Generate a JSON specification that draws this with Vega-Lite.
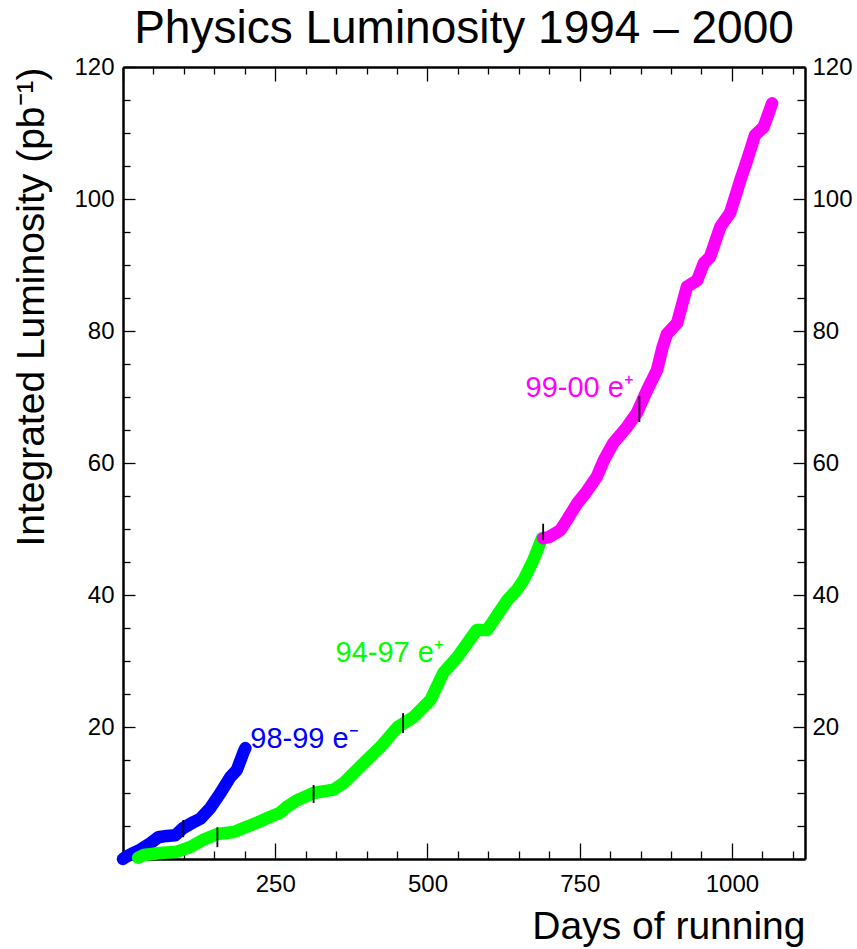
{
  "$schema": "https://vega.github.io/schema/vega-lite/v6.json",
  "width": 682,
  "height": 792,
  "autosize": {"type": "none"},
  "padding": {"left": 123, "top": 67, "right": 52, "bottom": 90},
  "background": "white",
  "title": {"text": "Physics Luminosity 1994 – 2000", "font": "Liberation Sans", "fontSize": 46, "fontWeight": "normal", "color": "black", "anchor": "middle", "offset": 2},
  "config": {
    "view": {"stroke": null},
    "axis": {
      "grid": false,
      "domainColor": "black",
      "domainWidth": 2.5,
      "tickColor": "black",
      "tickWidth": 1.3,
      "labelFont": "Liberation Sans",
      "labelFontSize": 24,
      "labelColor": "black",
      "labelFlush": false,
      "labelOverlap": false,
      "titleFont": "Liberation Sans",
      "titleFontWeight": "normal",
      "titleFontSize": 39,
      "titleColor": "black"
    }
  },
  "datasets": {
    "curves": [
      {"series": "98-99 e⁻", "d": 0, "L": 0},
      {"series": "98-99 e⁻", "d": 4, "L": 0.3},
      {"series": "98-99 e⁻", "d": 15, "L": 0.8},
      {"series": "98-99 e⁻", "d": 28, "L": 1.4},
      {"series": "98-99 e⁻", "d": 45, "L": 2.4},
      {"series": "98-99 e⁻", "d": 58, "L": 3.3},
      {"series": "98-99 e⁻", "d": 72, "L": 3.5},
      {"series": "98-99 e⁻", "d": 86, "L": 3.6},
      {"series": "98-99 e⁻", "d": 99, "L": 4.7},
      {"series": "98-99 e⁻", "d": 116, "L": 5.6},
      {"series": "98-99 e⁻", "d": 127, "L": 6.1},
      {"series": "98-99 e⁻", "d": 143, "L": 7.7},
      {"series": "98-99 e⁻", "d": 160, "L": 10.0},
      {"series": "98-99 e⁻", "d": 176, "L": 12.4},
      {"series": "98-99 e⁻", "d": 187, "L": 13.5},
      {"series": "98-99 e⁻", "d": 198, "L": 16.2},
      {"series": "98-99 e⁻", "d": 201, "L": 16.8},
      {"series": "94-97 e⁺", "d": 25, "L": 0.2},
      {"series": "94-97 e⁺", "d": 34, "L": 0.6},
      {"series": "94-97 e⁺", "d": 61, "L": 0.9},
      {"series": "94-97 e⁺", "d": 89, "L": 1.1},
      {"series": "94-97 e⁺", "d": 110, "L": 1.8},
      {"series": "94-97 e⁺", "d": 132, "L": 2.9},
      {"series": "94-97 e⁺", "d": 155, "L": 3.8},
      {"series": "94-97 e⁺", "d": 182, "L": 4.1},
      {"series": "94-97 e⁺", "d": 198, "L": 4.7},
      {"series": "94-97 e⁺", "d": 220, "L": 5.5},
      {"series": "94-97 e⁺", "d": 242, "L": 6.4},
      {"series": "94-97 e⁺", "d": 258, "L": 7.0},
      {"series": "94-97 e⁺", "d": 269, "L": 7.9},
      {"series": "94-97 e⁺", "d": 286, "L": 8.9},
      {"series": "94-97 e⁺", "d": 313, "L": 10.0},
      {"series": "94-97 e⁺", "d": 346, "L": 10.5},
      {"series": "94-97 e⁺", "d": 362, "L": 11.5},
      {"series": "94-97 e⁺", "d": 395, "L": 14.5},
      {"series": "94-97 e⁺", "d": 423, "L": 17.0},
      {"series": "94-97 e⁺", "d": 451, "L": 20.0},
      {"series": "94-97 e⁺", "d": 477, "L": 21.5},
      {"series": "94-97 e⁺", "d": 505, "L": 24.1},
      {"series": "94-97 e⁺", "d": 526, "L": 28.2},
      {"series": "94-97 e⁺", "d": 549, "L": 30.6},
      {"series": "94-97 e⁺", "d": 581, "L": 34.7},
      {"series": "94-97 e⁺", "d": 598, "L": 34.7},
      {"series": "94-97 e⁺", "d": 631, "L": 39.2},
      {"series": "94-97 e⁺", "d": 647, "L": 40.8},
      {"series": "94-97 e⁺", "d": 658, "L": 42.3},
      {"series": "94-97 e⁺", "d": 674, "L": 45.3},
      {"series": "94-97 e⁺", "d": 688, "L": 48.6},
      {"series": "99-00 e⁺", "d": 690, "L": 48.6},
      {"series": "99-00 e⁺", "d": 700, "L": 48.8},
      {"series": "99-00 e⁺", "d": 718, "L": 49.8},
      {"series": "99-00 e⁺", "d": 730, "L": 51.5},
      {"series": "99-00 e⁺", "d": 746, "L": 53.9},
      {"series": "99-00 e⁺", "d": 760, "L": 55.5},
      {"series": "99-00 e⁺", "d": 778, "L": 57.9},
      {"series": "99-00 e⁺", "d": 790, "L": 60.5},
      {"series": "99-00 e⁺", "d": 805, "L": 63.0},
      {"series": "99-00 e⁺", "d": 828, "L": 65.5},
      {"series": "99-00 e⁺", "d": 844, "L": 67.6},
      {"series": "99-00 e⁺", "d": 861, "L": 71.1},
      {"series": "99-00 e⁺", "d": 877, "L": 74.1},
      {"series": "99-00 e⁺", "d": 886, "L": 77.5},
      {"series": "99-00 e⁺", "d": 893, "L": 79.5},
      {"series": "99-00 e⁺", "d": 910, "L": 81.2},
      {"series": "99-00 e⁺", "d": 926, "L": 86.7},
      {"series": "99-00 e⁺", "d": 943, "L": 87.7},
      {"series": "99-00 e⁺", "d": 954, "L": 90.3},
      {"series": "99-00 e⁺", "d": 964, "L": 91.2},
      {"series": "99-00 e⁺", "d": 981, "L": 95.8},
      {"series": "99-00 e⁺", "d": 997, "L": 97.9},
      {"series": "99-00 e⁺", "d": 1014, "L": 102.9},
      {"series": "99-00 e⁺", "d": 1025, "L": 105.9},
      {"series": "99-00 e⁺", "d": 1038, "L": 109.7},
      {"series": "99-00 e⁺", "d": 1052, "L": 110.9},
      {"series": "99-00 e⁺", "d": 1066, "L": 114.5}
    ],
    "markers": [
      {"d": 99, "y1": 3.3, "y2": 5.9},
      {"d": 155, "y1": 1.8, "y2": 4.8},
      {"d": 313, "y1": 8.5, "y2": 11.2},
      {"d": 460, "y1": 19.1, "y2": 22.1},
      {"d": 690, "y1": 48.3, "y2": 50.8},
      {"d": 848, "y1": 66.2, "y2": 70.1}
    ],
    "labels": [
      {"series": "98-99 e⁻", "d": 209, "L": 16.8},
      {"series": "94-97 e⁺", "d": 349, "L": 29.8},
      {"series": "99-00 e⁺", "d": 661, "L": 70.0}
    ]
  },
  "resolve": {"axis": {"x": "independent", "y": "independent"}},
  "layer": [
    {
      "data": {"name": "curves"},
      "mark": {"type": "line", "strokeWidth": 12.5, "strokeCap": "round", "strokeJoin": "round"},
      "encoding": {
        "x": {
          "field": "d", "type": "quantitative",
          "scale": {"domain": [0, 1120], "nice": false, "zero": false},
          "axis": {
            "orient": "bottom",
            "values": [0,50,100,150,200,250,300,350,400,450,500,550,600,650,700,750,800,850,900,950,1000,1050,1100],
            "format": "d",
            "tickSize": {"condition": {"test": "datum.value % 250 === 0", "value": -16}, "value": -8},
            "labelExpr": "datum.value % 250 === 0 && datum.value > 0 ? datum.label : ''",
            "labelPadding": 29,
            "title": "Days of running",
            "titleAnchor": "end",
            "titlePadding": 3
          }
        },
        "y": {
          "field": "L", "type": "quantitative",
          "scale": {"domain": [0, 120], "nice": false, "zero": false},
          "axis": {
            "orient": "left",
            "values": [0,5,10,15,20,25,30,35,40,45,50,55,60,65,70,75,80,85,90,95,100,105,110,115,120],
            "tickSize": {"condition": {"test": "datum.value % 20 === 0", "value": -12}, "value": -7},
            "labelExpr": "datum.value % 20 === 0 && datum.value > 0 ? datum.label : ''",
            "labelPadding": 21,
            "title": "Integrated Luminosity (pb⁻¹)",
            "titleAnchor": "end",
            "titlePadding": 22
          }
        },
        "color": {
          "field": "series", "type": "nominal",
          "scale": {"domain": ["98-99 e⁻", "94-97 e⁺", "99-00 e⁺"], "range": ["#0000ff", "#00ff00", "#ff00ff"]},
          "legend": null
        }
      }
    },
    {
      "data": {"name": "markers"},
      "mark": {"type": "rule", "color": "black", "strokeWidth": 1.8},
      "encoding": {
        "x": {
          "field": "d", "type": "quantitative",
          "axis": {
            "orient": "top",
            "values": [0,50,100,150,200,250,300,350,400,450,500,550,600,650,700,750,800,850,900,950,1000,1050,1100],
            "tickSize": {"condition": {"test": "datum.value % 250 === 0", "value": -14}, "value": -7},
            "labels": false,
            "title": null
          }
        },
        "y": {
          "field": "y1", "type": "quantitative",
          "axis": {
            "orient": "right",
            "values": [0,5,10,15,20,25,30,35,40,45,50,55,60,65,70,75,80,85,90,95,100,105,110,115,120],
            "tickSize": {"condition": {"test": "datum.value % 20 === 0", "value": -12}, "value": -8},
            "labelExpr": "datum.value % 20 === 0 && datum.value > 0 ? datum.label : ''",
            "labelPadding": 19,
            "title": null
          }
        },
        "y2": {"field": "y2"}
      }
    },
    {
      "data": {"name": "labels"},
      "mark": {"type": "text", "font": "Liberation Sans", "fontSize": 29, "align": "left", "baseline": "alphabetic"},
      "encoding": {
        "x": {"field": "d", "type": "quantitative", "axis": null},
        "y": {"field": "L", "type": "quantitative", "axis": null},
        "text": {"field": "series"},
        "color": {"field": "series", "type": "nominal", "legend": null}
      }
    }
  ]
}
